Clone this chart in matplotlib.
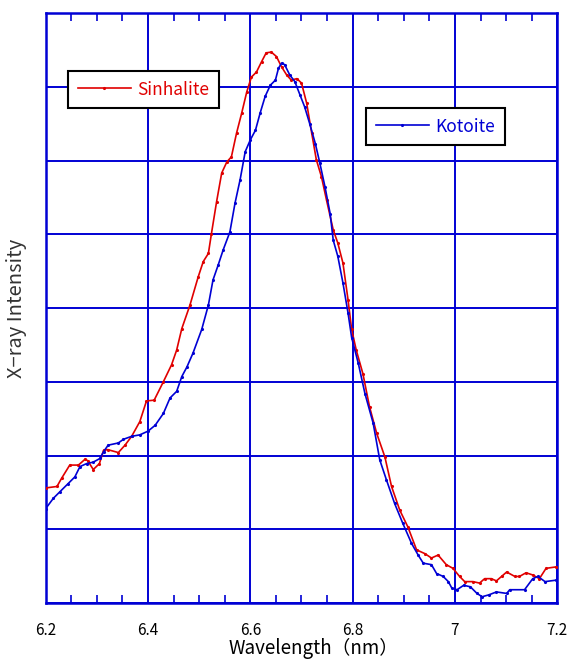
import matplotlib
matplotlib.use("Agg")
import matplotlib.pyplot as plt
from matplotlib.ticker import MultipleLocator

plt.rcParams['font.family'] = ['Noto Sans CJK JP', 'DejaVu Sans']

sin_x = [6.200, 6.222, 6.231, 6.247, 6.264, 6.277, 6.282, 6.293, 6.305, 6.313, 6.321, 6.342, 6.355, 6.368,
         6.384, 6.397, 6.412, 6.430, 6.446, 6.456, 6.466, 6.482, 6.498, 6.508, 6.518, 6.524, 6.534, 6.544,
         6.554, 6.563, 6.573, 6.583, 6.593, 6.602, 6.612, 6.622, 6.631, 6.641, 6.651, 6.661, 6.671, 6.680,
         6.691, 6.700, 6.710, 6.720, 6.729, 6.739, 6.749, 6.762, 6.771, 6.781, 6.791, 6.798, 6.807, 6.820,
         6.833, 6.847, 6.863, 6.876, 6.892, 6.908, 6.925, 6.941, 6.954, 6.967, 6.983, 6.996, 7.009, 7.019,
         7.035, 7.048, 7.058, 7.071, 7.081, 7.091, 7.101, 7.117, 7.126, 7.139, 7.152, 7.165, 7.178, 7.198]
sin_y = [1.56, 1.58, 1.69, 1.87, 1.87, 1.95, 1.93, 1.81, 1.89, 2.07, 2.08, 2.04, 2.14, 2.26,
         2.46, 2.74, 2.75, 3.00, 3.23, 3.43, 3.72, 4.04, 4.42, 4.63, 4.74, 5.01, 5.44, 5.83,
         5.98, 6.05, 6.37, 6.64, 6.93, 7.13, 7.20, 7.34, 7.46, 7.47, 7.41, 7.27, 7.16, 7.09,
         7.11, 7.05, 6.78, 6.37, 6.01, 5.78, 5.46, 5.06, 4.88, 4.61, 4.11, 3.71, 3.43, 3.11,
         2.66, 2.30, 1.98, 1.58, 1.26, 1.03, 0.72, 0.67, 0.61, 0.65, 0.52, 0.47, 0.36, 0.29,
         0.29, 0.27, 0.33, 0.33, 0.30, 0.36, 0.42, 0.36, 0.36, 0.41, 0.38, 0.33, 0.47, 0.49]

kot_x = [6.200, 6.215, 6.228, 6.244, 6.257, 6.267, 6.280, 6.293, 6.306, 6.313, 6.322, 6.342, 6.352, 6.368,
         6.384, 6.400, 6.414, 6.430, 6.443, 6.456, 6.466, 6.476, 6.488, 6.505, 6.518, 6.527, 6.537, 6.547,
         6.560, 6.570, 6.580, 6.590, 6.600, 6.610, 6.619, 6.629, 6.639, 6.649, 6.655, 6.661, 6.667, 6.677,
         6.687, 6.697, 6.706, 6.716, 6.727, 6.736, 6.746, 6.756, 6.762, 6.771, 6.781, 6.791, 6.798, 6.811,
         6.824, 6.840, 6.853, 6.866, 6.882, 6.898, 6.915, 6.928, 6.938, 6.954, 6.964, 6.977, 6.987, 6.994,
         7.004, 7.017, 7.030, 7.043, 7.053, 7.066, 7.081, 7.101, 7.107, 7.136, 7.152, 7.162, 7.176, 7.198]
kot_y = [1.28, 1.42, 1.51, 1.62, 1.71, 1.85, 1.89, 1.91, 1.96, 2.05, 2.14, 2.17, 2.22, 2.26,
         2.28, 2.33, 2.41, 2.57, 2.78, 2.87, 3.07, 3.20, 3.39, 3.71, 4.04, 4.38, 4.58, 4.79,
         5.03, 5.42, 5.74, 6.12, 6.28, 6.41, 6.64, 6.87, 7.02, 7.09, 7.25, 7.32, 7.30, 7.16,
         7.07, 6.89, 6.73, 6.50, 6.23, 5.96, 5.64, 5.28, 4.92, 4.70, 4.34, 3.93, 3.60, 3.25,
         2.84, 2.44, 1.94, 1.67, 1.35, 1.08, 0.81, 0.65, 0.54, 0.52, 0.40, 0.36, 0.29, 0.20,
         0.18, 0.24, 0.22, 0.13, 0.085, 0.11, 0.15, 0.13, 0.18, 0.18, 0.33, 0.36, 0.29, 0.31]

x_ticks = [6.2, 6.4, 6.6, 6.8, 7.0, 7.2]
x_tick_labels = ['6.2', '6.4', '6.6', '6.8', '7', '7.2']

GRID = '#0000d4'
RED = '#e00000'
BLUE = '#0000d4'

fig = plt.figure(figsize=(5.69, 6.60), dpi=100)
ax = fig.add_axes([45.7/569, 1-603/660, (557.3-45.7)/569, (603-13)/660])

ax.plot(sin_x, sin_y, color=RED, lw=1.2, marker='.', ms=2.5, label='Sinhalite', zorder=3)
ax.plot(kot_x, kot_y, color=BLUE, lw=1.2, marker='.', ms=2.5, label='Kotoite', zorder=3)

ax.set_xlim(6.2, 7.2)
ax.set_ylim(0, 8)
ax.set_xticks(x_ticks)
ax.set_xticklabels(x_tick_labels, fontsize=11)
ax.xaxis.set_minor_locator(MultipleLocator(0.05))
ax.yaxis.set_major_locator(MultipleLocator(1))
ax.set_yticklabels([])
ax.tick_params(axis='x', which='both', direction='in', top=True, bottom=True, color=GRID, pad=14)
ax.tick_params(axis='x', which='minor', length=6, width=1.2)
ax.tick_params(axis='x', which='major', length=0)
ax.tick_params(axis='y', which='both', length=0)
ax.grid(True, which='major', color=GRID, lw=1.4)
for s in ax.spines.values():
    s.set_color(GRID)
    s.set_linewidth(1.8)

fig.text(314/569, 1/660, 'Wavelength（nm）', fontsize=13.5, ha='center', va='bottom')
ax.set_ylabel('X−ray Intensity', fontsize=14.5, color='#333333', labelpad=10)

common = dict(frameon=True, fancybox=False, framealpha=1, edgecolor='black', borderaxespad=0,
              loc='upper left', fontsize=12.5, handlelength=3.1, handletextpad=0.35,
              borderpad=0.55, bbox_transform=fig.transFigure)
h = ax.get_lines()
leg1 = ax.legend([h[0]], ['Sinhalite'], bbox_to_anchor=(68/569, 1-71/660), labelcolor=RED, **common)
leg1.get_frame().set_linewidth(1.5)
ax.add_artist(leg1)
leg2 = ax.legend([h[1]], ['Kotoite'], bbox_to_anchor=(366/569, 1-108/660), labelcolor=BLUE, **common)
leg2.get_frame().set_linewidth(1.5)

fig.savefig('out.png', dpi=100)
